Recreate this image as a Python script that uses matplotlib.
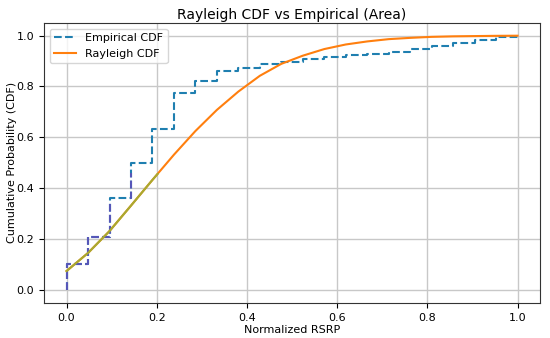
import numpy as np
import matplotlib.pyplot as plt
from matplotlib.patches import Polygon

# =========================
# Data
# =========================
x_pts = np.linspace(0, 1, 22)

emp_cdf = [0.102, 0.209, 0.362, 0.500, 0.634, 0.776, 0.823, 0.862, 0.874, 0.890,
           0.897, 0.909, 0.915, 0.925, 0.929, 0.937, 0.949, 0.958, 0.971, 0.984,
           0.993]

ray_cdf = [0.075, 0.146, 0.232, 0.332, 0.433, 0.532, 0.625, 0.708, 0.780, 0.842,
           0.889, 0.921, 0.947, 0.965, 0.977, 0.986, 0.991, 0.995, 0.997, 0.998,
           0.999, 0.9995]

# step curve: starts at (0, 0), last level held to x = 1
emp_x = np.concatenate([[0.0], x_pts])
emp_y = np.concatenate([[0.0], emp_cdf, [emp_cdf[-1]]])

# =========================
# Plot
# =========================
fig, ax = plt.subplots(figsize=(5.5, 3.38), dpi=100)
fig.subplots_adjust(left=0.08, right=0.982, top=0.932, bottom=0.104)

ax.plot(emp_x, emp_y, drawstyle="steps-post", linestyle="--", color="#1f7fb0",
        linewidth=1.5, label="Empirical CDF")
ax.plot(x_pts, ray_cdf, color="#ff7f0e", linewidth=1.5, label="Rayleigh CDF")

# tinted low-left region of the reference
clip = Polygon([(-0.06, -0.06), (0.205, -0.06), (0.205, 0.46), (0.14, 0.46),
                (0.14, 0.34), (-0.06, 0.34)], closed=True,
               transform=ax.transData, facecolor="none", edgecolor="none")
l1, = ax.plot(emp_x, emp_y, drawstyle="steps-post", linestyle="--",
              color="#5656b8", linewidth=1.5)
l2, = ax.plot(x_pts, ray_cdf, color="#a8aa30", linewidth=1.5)
l1.set_clip_path(clip)
l2.set_clip_path(clip)

ax.set_title("Rayleigh CDF vs Empirical (Area)", fontsize=10, pad=3)
ax.set_xlabel("Normalized RSRP", fontsize=8, labelpad=2)
ax.set_ylabel("Cumulative Probability (CDF)", fontsize=8, labelpad=0)
ax.tick_params(labelsize=8)
for s in ax.spines.values():
    s.set_color("#333333")
ax.grid(True, color="#c8c8c8", linewidth=1.0)
ax.legend(loc="upper left", fontsize=8)

plt.savefig("out.png")
